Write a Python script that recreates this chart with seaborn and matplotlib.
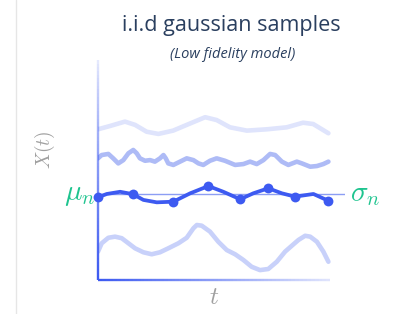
import numpy as np
import pandas as pd
import matplotlib
matplotlib.use("Agg")
import matplotlib.pyplot as plt
from matplotlib.collections import LineCollection
from matplotlib.lines import Line2D
import seaborn as sns

# --- data ---
top_t = [0.0, 0.52, 1.17, 1.61, 2.11, 2.62, 3.26, 3.85, 4.65, 5.15, 5.73, 6.46, 7.33, 8.19, 8.90, 9.34, 10.0]
top_x = [6.85, 7.00, 7.20, 7.05, 6.74, 6.64, 6.79, 7.05, 7.40, 7.27, 6.94, 6.79, 6.85, 6.94, 7.15, 7.09, 6.67]

wavy_t = [0.0, 0.16, 0.45, 0.66, 0.88, 1.10, 1.32, 1.53, 1.68, 1.82, 2.04, 2.26, 2.47, 2.69, 2.84,
          2.94, 3.05, 3.27, 3.56, 3.85, 4.14, 4.36, 4.57, 4.86, 5.15, 5.51, 5.95, 6.31, 6.60, 6.89,
          7.18, 7.47, 7.69, 7.98, 8.26, 8.63, 8.85, 9.21, 9.50, 9.78, 10.0]
wavy_x = [5.53, 5.68, 5.73, 5.53, 5.30, 5.45, 5.76, 5.91, 5.76, 5.53, 5.42, 5.45, 5.38, 5.53, 5.68,
          5.53, 5.30, 5.23, 5.38, 5.53, 5.45, 5.30, 5.23, 5.42, 5.53, 5.42, 5.23, 5.27, 5.38, 5.27,
          5.45, 5.73, 5.68, 5.38, 5.23, 5.38, 5.30, 5.15, 5.18, 5.27, 5.38]

main_t = [0.0, 0.38, 0.96, 1.52, 1.97, 2.55, 3.27, 4.00, 4.79, 5.44, 6.17, 6.74, 7.39, 7.98, 8.55, 9.35, 10.0]
main_x = [3.76, 3.91, 4.01, 3.90, 3.64, 3.53, 3.56, 3.94, 4.27, 4.01, 3.67, 3.94, 4.17, 3.94, 3.79, 3.91, 3.60]

sample_t = [0.0, 1.52, 3.27, 4.79, 6.17, 7.39, 8.55, 10.0]
sample_x = [3.76, 3.90, 3.56, 4.27, 3.67, 4.17, 3.79, 3.60]
mean_level = 3.91

low_t = [0.0, 0.16, 0.45, 0.74, 1.03, 1.32, 1.61, 1.97, 2.33, 2.69, 3.05, 3.49, 3.85, 4.14, 4.29,
         4.50, 4.86, 5.22, 5.59, 5.95, 6.31, 6.67, 7.03, 7.39, 7.76, 8.12, 8.48, 8.70, 8.99, 9.21,
         9.50, 9.78, 10.0]
low_x = [1.29, 1.67, 1.92, 1.97, 1.90, 1.67, 1.44, 1.26, 1.17, 1.26, 1.44, 1.67, 1.92, 2.35, 2.50,
         2.47, 2.20, 1.74, 1.36, 1.17, 0.91, 0.60, 0.45, 0.50, 0.83, 1.29, 1.62, 1.82, 2.01, 1.97,
         1.74, 1.29, 0.83]

title = "i.i.d gaussian samples"
subtitle = "(Low fidelity model)"

# --- style ---
sns.set_style("white")
plt.rcParams["font.family"] = ["Open Sans", "DejaVu Sans"]
plt.rcParams["mathtext.fontset"] = "cm"

blue = "#3d5af1"
green = "#1fc48f"
navy = "#2a3f5f"
grey = "#a0a0a0"

fig = plt.figure(figsize=(3.98, 3.14), dpi=100)
W, H = 398, 314
ax = fig.add_axes([98 / W, 1 - 280 / H, (345 - 98) / W, 220 / H])
ax.set_xlim(0, 10.72)
ax.set_ylim(0, 10)

curves = [
    (top_t, top_x, "#dfe4fc"),
    (wavy_t, wavy_x, "#aebbf6"),
    (low_t, low_x, "#c8d1fa"),
]
for t, x, c in curves:
    df = pd.DataFrame({"t": t, "x": x})
    sns.lineplot(data=df, x="t", y="x", ax=ax, color=c, lw=3.3, estimator=None,
                 solid_capstyle="round", solid_joinstyle="round")

ax.axhline(mean_level, color="#8c9ef4", lw=1.0, zorder=1)

df_main = pd.DataFrame({"t": main_t, "x": main_x})
sns.lineplot(data=df_main, x="t", y="x", ax=ax, color=blue, lw=2.7, estimator=None,
             solid_capstyle="round", solid_joinstyle="round", zorder=3)
df_s = pd.DataFrame({"t": sample_t, "x": sample_x})
sns.scatterplot(data=df_s, x="t", y="x", ax=ax, color=blue, s=50, edgecolor=blue,
                linewidth=0, zorder=4, clip_on=False)

# gradient axis lines
for sp in ax.spines.values():
    sp.set_visible(False)
n = 60
fr = np.linspace(0, 1, n + 1)
segs_v = [[(0, fr[i]), (0, fr[i + 1])] for i in range(n)]
alpha_v = [(1 - f) ** 0.8 * 0.9 + 0.1 for f in fr[:-1]]
segs_h = [[(fr[i] * 0.94, 0), (fr[i + 1] * 0.94, 0)] for i in range(n)]
alpha_h = [(1 - f) * 0.85 + 0.15 for f in fr[:-1]]
for segs, al in [(segs_v, alpha_v), (segs_h, alpha_h)]:
    cols = [matplotlib.colors.to_rgba(blue, a) for a in al]
    lc = LineCollection(segs, colors=cols, linewidths=1.7, transform=ax.transAxes,
                        clip_on=False, capstyle="butt")
    ax.add_collection(lc)

ax.set_xticks([])
ax.set_yticks([])
ax.set_xlabel("")
ax.set_ylabel("")

ax.text(-0.12, mean_level, r"$\mu_n$", color=green, fontsize=21, ha="right", va="center")
ax.text(10.94, mean_level, r"$\sigma_n$", color=green, fontsize=21, ha="left", va="center")

fig.text(45 / W, 1 - 150 / H, r"$X(t)$", color=grey, fontsize=14, rotation=90,
         ha="center", va="center")
fig.text(214 / W, 1 - 298 / H, r"$t$", color=grey, fontsize=18, ha="center", va="center")

fig.text(231 / W, 1 - 25 / H, title, color=navy, fontsize=15.5, ha="center", va="center")
fig.text(233 / W, 1 - 55 / H, subtitle, color=navy, fontsize=10.5, style="italic",
         ha="center", va="center")

fig.add_artist(Line2D([16 / W, 16 / W], [0, 1], color="#e6e6e6", lw=1.0))

fig.savefig("out.png", dpi=100)
